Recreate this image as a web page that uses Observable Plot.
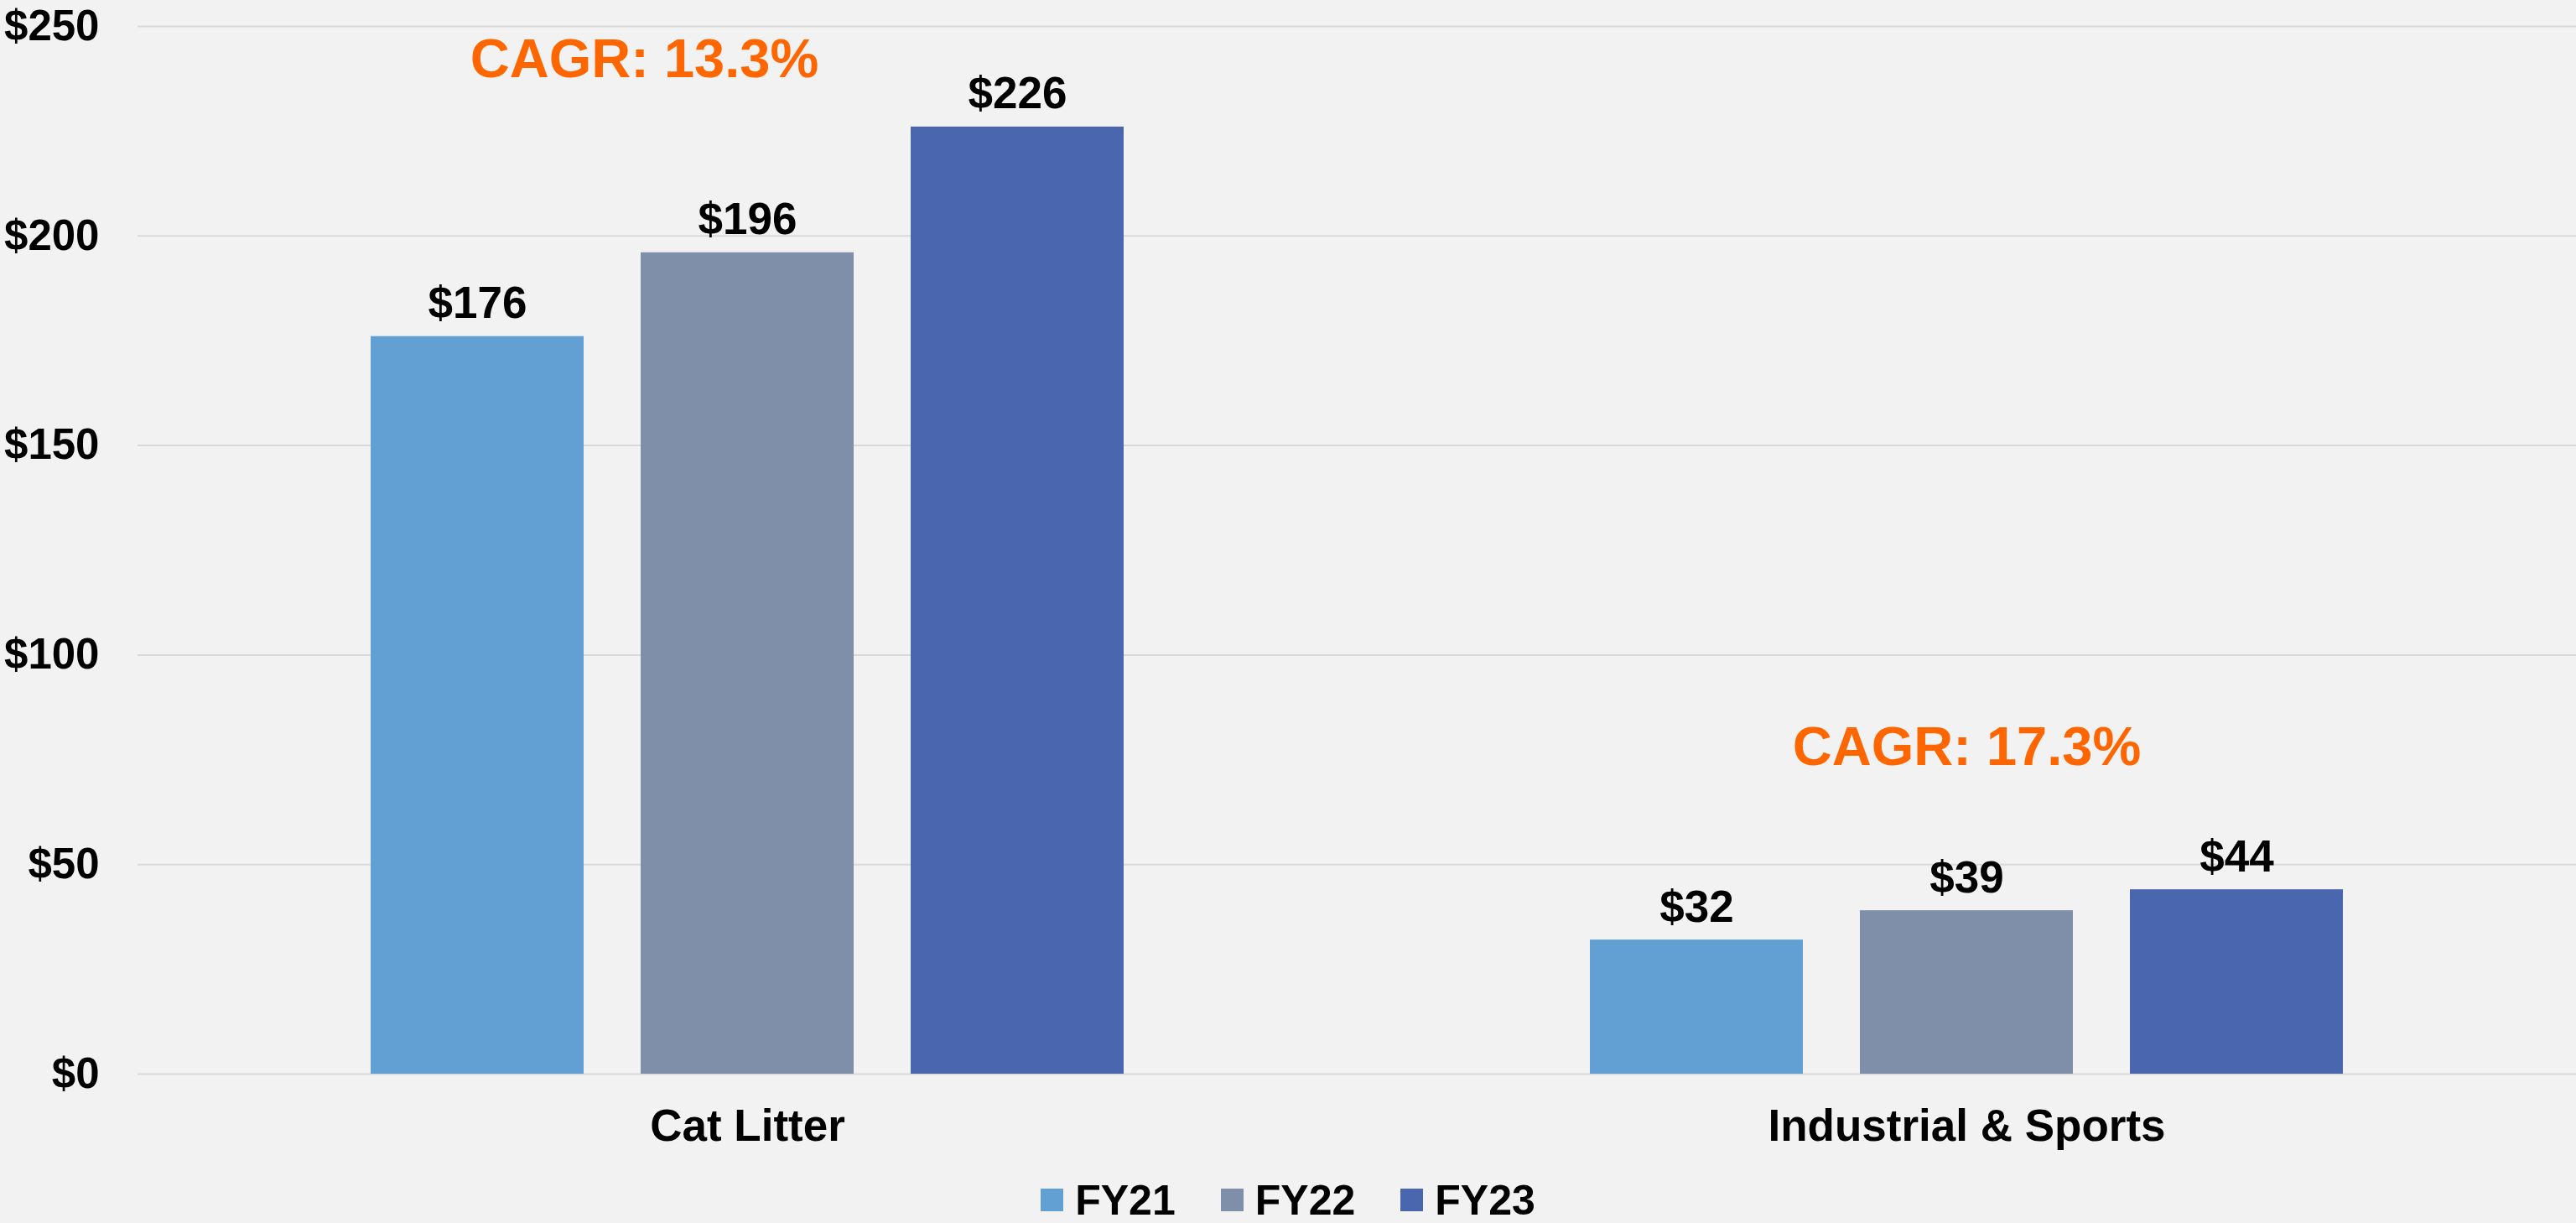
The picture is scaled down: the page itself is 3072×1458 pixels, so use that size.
<!DOCTYPE html>
<html><head><meta charset="utf-8">
<script src="https://cdn.jsdelivr.net/npm/d3@7"></script>
<script src="https://cdn.jsdelivr.net/npm/@observablehq/plot@0.6"></script>
<style>
html,body{margin:0;padding:0;background:#f2f2f2;}
body{width:3072px;height:1458px;overflow:hidden;font-family:"Liberation Sans",Arial,sans-serif;font-weight:bold;}
#legend{box-sizing:border-box;display:flex;justify-content:center;align-items:center;height:63px;padding-top:8px;font-size:50px;color:#000;}
.item{display:flex;align-items:center;margin:0 27px;}
.sw{width:27px;height:27px;margin-right:14px;}
</style></head><body><div id="chart"></div><div id="legend"></div>
<script>
const categories = ["Cat Litter", "Industrial & Sports"];
const years = ["FY21", "FY22", "FY23"];
const catLitterValues = [176, 196, 226];
const industrialValues = [32, 39, 44];
const yearColors = ["#629fd2", "#7f8fa9", "#4a66ae"];
const yTicks = [0, 50, 100, 150, 200, 250];
const cagrLabels = ["CAGR: 13.3%", "CAGR: 17.3%"];
const cagrY = [242, 78];

const seriesByCat = [catLitterValues, industrialValues];
const data = categories.flatMap((c, i) => years.map((y, j) => ({cat: c, year: y, value: seriesByCat[i][j]})));
const cagr = categories.map((c, i) => ({cat: c, year: "FY22", y: cagrY[i], text: cagrLabels[i]}));

const chart = Plot.plot({
  width: 3072, height: 1395,
  marginTop: 31, marginBottom: 115, marginLeft: 163, marginRight: 0,
  style: {background: "#f2f2f2", fontFamily: '"Liberation Sans", Arial, sans-serif', fontWeight: "bold", fontSize: "53px", color: "#000"},
  fx: {domain: categories, padding: 0, label: null},
  x: {domain: years, paddingInner: 0.21, paddingOuter: 0.857, axis: null},
  y: {domain: [0, 250]},
  color: {domain: years, range: yearColors},
  marks: [
    Plot.gridY(yTicks, {stroke: "#d9d9d9", strokeOpacity: 1, strokeWidth: 2}),
    Plot.axisY(yTicks, {tickSize: 0, tickPadding: 46, tickFormat: d => "$" + d, label: null, fontSize: 51}),
    Plot.axisFx({anchor: "bottom", tickSize: 0, tickPadding: 42, label: null}),
    Plot.barY(data, {fx: "cat", x: "year", y: "value", fill: "year"}),
    Plot.text(data, {fx: "cat", x: "year", y: "value", text: d => "$" + d.value, lineAnchor: "bottom", dy: -22, fill: "#000"}),
    Plot.text(cagr.slice(0, 1), {fx: "cat", x: "year", y: "y", text: "text", fill: "#ff6600", fontSize: 65, dx: -123}),
    Plot.text(cagr.slice(1), {fx: "cat", x: "year", y: "y", text: "text", fill: "#ff6600", fontSize: 65})
  ]
});
document.getElementById("chart").appendChild(chart);

const legend = document.getElementById("legend");
years.forEach((y, i) => {
  const item = document.createElement("div");
  item.className = "item";
  const sw = document.createElement("div");
  sw.className = "sw";
  sw.style.background = yearColors[i];
  const label = document.createElement("span");
  label.textContent = y;
  item.appendChild(sw);
  item.appendChild(label);
  legend.appendChild(item);
});
</script></body></html>
